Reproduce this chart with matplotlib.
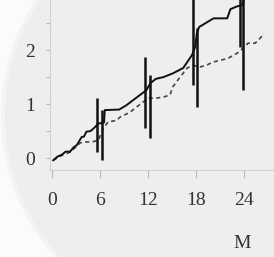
import matplotlib
matplotlib.use("Agg")
import matplotlib.pyplot as plt
from matplotlib.patches import Circle

# Data
solid_t = [0.15, 0.7, 1.2, 1.7, 2.25, 2.7, 3.1, 3.7, 4.0, 4.3, 4.8, 5.2, 5.8, 6.5, 6.6, 8.4, 9.3, 10.1, 11.0, 11.8,
           12.3, 13.0, 13.9, 15.1, 16.4, 17.5, 17.9, 18.1, 18.4, 19.4, 20.2, 21.9,
           22.3, 23.1, 23.8, 24.0, 24.3]
solid_v = [-0.04, 0.03, 0.06, 0.12, 0.12, 0.20, 0.24, 0.39, 0.40, 0.49, 0.50, 0.55, 0.64, 0.66, 0.89, 0.90, 0.98, 1.07, 1.17, 1.26,
           1.39, 1.47, 1.50, 1.57, 1.67, 1.91, 2.06, 2.31, 2.43, 2.52, 2.59, 2.59,
           2.76, 2.81, 2.84, 2.95, 3.10]
dash_t = [0.15, 1.2, 2.25, 3.1, 3.5, 4.1, 5.0, 5.8, 6.4, 7.0, 8.1, 8.5, 9.75, 10.6, 11.4, 12.0,
          12.9, 13.9, 14.75, 15.1, 16.0, 16.9, 17.6, 18.5, 19.3, 20.1, 21.0, 22.0,
          23.1, 23.9, 24.5, 25.4, 26.0, 26.5]
dash_v = [-0.04, 0.05, 0.11, 0.22, 0.28, 0.30, 0.30, 0.33, 0.55, 0.67, 0.70, 0.76, 0.85, 0.95, 1.04, 1.11,
          1.11, 1.13, 1.17, 1.32, 1.50, 1.67, 1.72, 1.69, 1.72, 1.78, 1.81, 1.85,
          1.94, 2.04, 2.13, 2.13, 2.22, 2.31]

err_t = [5.6, 6.25, 11.6, 12.25, 17.6, 18.1, 23.5, 23.9]
err_lo = [0.11, -0.04, 0.56, 0.37, 1.35, 0.94, 2.06, 1.26]
err_hi = [1.11, 0.89, 1.87, 1.54, 3.20, 2.41, 3.20, 3.20]

x_ticks = [0, 6, 12, 18, 24]
y_ticks = [0, 1, 2]

W, H = 274, 257
fig = plt.figure(figsize=(W / 100, H / 100), dpi=100, facecolor="#fbfbfb")

# lens-like light gray disc behind the chart
bg = fig.add_axes([0, 0, 1, 1], zorder=0)
bg.set_xlim(0, W)
bg.set_ylim(H, 0)
bg.axis("off")
bg.add_patch(Circle((212, 116), 211, facecolor="#f3f3f3", edgecolor="none"))
bg.add_patch(Circle((212, 116), 207, facecolor="#eeeeee", edgecolor="none"))

ax = fig.add_axes([50 / W, 1 - 170 / H, 1 - 50 / W, 170 / H], zorder=1)
ax.patch.set_alpha(0)

ax.plot(dash_t, dash_v, color="#444444", lw=1.2, ls=(0, (2.5, 2)))
ax.plot(solid_t, solid_v, color="#111111", lw=1.4)
ax.vlines(err_t, err_lo, err_hi, color="#111111", lw=1.8)

ax.set_xlim(-0.25, 27.75)
ax.set_ylim(-0.22, 2.93)
ax.set_xticks(x_ticks)
ax.set_yticks(y_ticks)
ax.set_yticks([0.5, 1.5, 2.5], minor=True)
for s in ["top", "right"]:
    ax.spines[s].set_visible(False)
for s in ["left", "bottom"]:
    ax.spines[s].set_color("#d0d0d0")
    ax.spines[s].set_linewidth(0.8)
ax.tick_params(axis="both", which="both", colors="#b8b8b8", width=0.8)
ax.tick_params(axis="x", length=6, pad=10, labelcolor="#333333")
ax.tick_params(axis="y", which="major", length=3, pad=8, labelcolor="#333333")
ax.tick_params(axis="y", which="minor", length=3)
for lab in ax.get_xticklabels() + ax.get_yticklabels():
    lab.set_fontfamily("Liberation Serif")
    lab.set_fontsize(14)

fig.text(233 / W, 1 - 243 / H, "M", fontfamily="Liberation Serif", fontsize=14,
         color="#333333", va="center", ha="left")

fig.savefig("out.png", dpi=100, facecolor=fig.get_facecolor())
